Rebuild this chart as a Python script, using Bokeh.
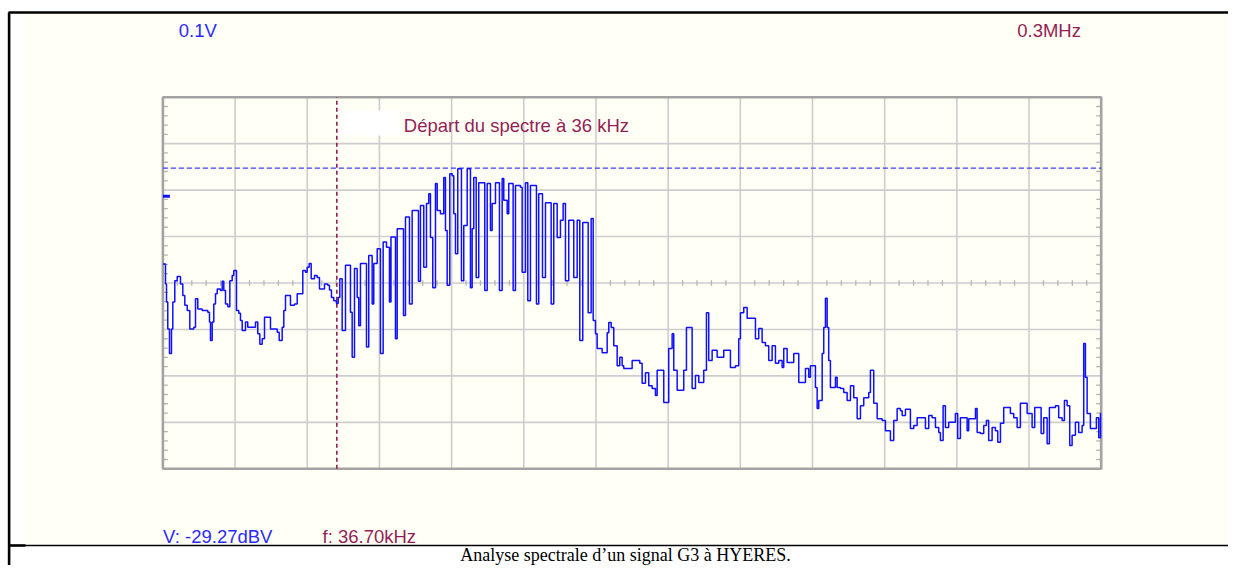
from bokeh.plotting import figure
from bokeh.models import Range1d
from bokeh.embed import file_html
from bokeh.resources import INLINE
from bokeh.core.properties import value
import numpy as np

# ------------------------------------------------------------------ data
# spectrum trace: frequency (kHz) and level (dBV)
freq_khz = [
    0.0, 0.55, 0.76, 1.03, 1.39, 1.81, 2.09, 2.51, 3.02, 3.71, 4.20, 4.62, 5.13, 5.68, 6.52, 6.88,
    7.36, 8.29, 9.47, 9.83, 10.04, 10.40, 10.74, 11.10, 11.46, 12.15, 12.51, 12.85, 13.21, 13.69,
    14.12, 14.62, 14.96, 15.53, 16.01, 16.37, 16.73, 17.43, 17.91, 19.54, 20.02, 20.45, 20.95,
    21.44, 22.70, 24.12, 24.54, 25.17, 25.51, 25.87, 26.92, 27.77, 28.34, 29.52, 30.09, 30.45,
    30.87, 31.29, 31.99, 32.56, 33.04, 34.10, 34.79, 35.15, 35.57, 36.06, 36.63, 36.99, 37.33,
    37.83, 38.53, 39.58, 39.94, 40.43, 41.00, 41.33, 41.69, 42.96, 43.44, 44.16, 44.50, 45.22,
    45.91, 46.48, 47.18, 47.81, 48.13, 49.08, 49.44, 50.77, 51.19, 52.03, 52.60, 53.93, 54.35,
    55.05, 55.62, 56.10, 56.46, 56.95, 57.52, 57.88, 58.57, 59.27, 59.63, 59.99, 60.54, 61.04,
    61.38, 61.74, 62.22, 63.00, 63.49, 64.21, 64.90, 65.26, 65.60, 66.11, 66.65, 67.92, 68.43,
    69.12, 69.48, 70.18, 71.02, 71.59, 71.93, 72.65, 72.98, 73.91, 74.40, 75.45, 75.81, 76.51,
    77.00, 77.56, 78.83, 79.31, 80.10, 80.73, 81.93, 82.48, 83.20, 83.89, 84.46, 84.95, 85.64,
    86.70, 87.42, 87.97, 88.60, 89.74, 90.37, 90.80, 91.28, 91.64, 92.69, 93.75, 94.09, 94.60,
    95.14, 95.86, 96.41, 96.91, 97.25, 99.02, 100.63, 101.13, 101.83, 102.52, 103.24, 103.94,
    104.30, 105.69, 106.74, 107.46, 107.80, 108.52, 109.91, 110.48, 111.68, 112.38, 113.08,
    114.13, 114.70, 115.18, 115.90, 116.96, 118.35, 119.76, 120.82, 121.51, 121.87, 122.57,
    123.29, 125.04, 125.73, 126.45, 127.15, 127.84, 128.56, 129.26, 129.96, 130.67, 131.01,
    131.73, 133.12, 134.18, 135.59, 136.28, 136.64, 137.70, 138.06, 138.40, 139.12, 139.45,
    139.81, 140.17, 140.50, 140.86, 141.92, 142.28, 142.98, 143.67, 144.39, 145.09, 145.78,
    146.50, 147.20, 147.89, 148.95, 149.30, 150.00, 150.72, 151.77, 152.47, 153.52, 154.22,
    154.94, 155.63, 156.00, 156.69, 157.74, 158.44, 159.16, 160.91, 161.61, 162.32, 163.02,
    163.72, 164.07, 164.64, 165.13, 165.82, 167.23, 167.72, 168.29, 169.71, 170.04, 171.47,
    171.82, 172.52, 173.21, 173.78, 174.26, 174.98, 175.68, 176.17, 176.74, 177.43, 178.84,
    179.54, 180.26, 180.95, 182.37, 183.42, 183.97, 185.32, 185.87, 186.59, 187.07, 188.34,
    189.03, 189.75, 190.24, 190.81, 191.36, 191.86, 192.56, 193.25, 193.97, 194.31, 194.67,
    195.03, 195.72, 196.99, 197.48, 197.85, 198.00,
]
level_dbv = [
    -49.9, -54.2, -58.1, -63.9, -69.2, -63.9, -58.1, -53.5, -52.6, -54.2, -56.7, -58.8, -59.9, -63.9, -63.5, -57.4,
    -59.6, -59.9, -60.3, -62.4, -66.4, -62.4, -58.5, -56.3, -55.3, -55.6, -53.6, -55.6, -58.5, -59.1,
    -53.5, -52.4, -51.3, -59.9, -60.5, -62.1, -64.2, -62.4, -63.5, -62.4, -64.9, -67.2, -66.0,
    -61.4, -63.9, -64.6, -66.4, -63.5, -59.9, -56.7, -58.8, -58.5, -56.3, -51.3, -51.7, -50.6,
    -49.8, -53.1, -52.4, -52.8, -55.3, -54.2, -54.5, -55.5, -57.1, -57.8, -58.4, -57.1, -53.1,
    -64.2, -50.2, -60.3, -70.0, -50.9, -57.1, -63.2, -49.8, -67.8, -48.1, -58.5, -49.8, -46.6,
    -69.2, -45.2, -46.3, -58.1, -44.1, -66.0, -42.3, -61.0, -39.8, -58.5, -38.4, -53.6, -37.3,
    -50.6, -36.9, -34.8, -44.2, -55.0, -32.6, -38.4, -39.1, -31.3, -42.7, -54.5, -30.5, -30.9,
    -39.1, -47.7, -29.4, -53.5, -41.6, -29.4, -55.0, -42.3, -31.3, -52.8, -32.4, -55.6, -32.6,
    -42.7, -36.9, -32.4, -55.6, -31.5, -36.2, -39.1, -32.6, -55.6, -33.0, -33.4, -51.7, -32.4,
    -57.8, -33.0, -58.5, -34.8, -52.8, -36.7, -58.5, -36.9, -44.2, -40.5, -36.9, -53.5, -40.5,
    -52.8, -40.5, -66.4, -41.0, -60.4, -40.1, -62.1, -64.9, -68.1, -69.0, -64.7, -62.5, -63.6,
    -67.5, -71.8, -70.0, -71.8, -72.4, -70.7, -71.3, -75.6, -73.3, -76.1, -76.7, -78.2,
    -72.8, -79.7, -68.1, -64.9, -72.8, -77.1, -72.8, -63.6, -76.7, -73.9, -75.4,
    -72.8, -60.4, -70.7, -68.5, -70.0, -68.5, -72.2, -71.8, -66.0, -60.4, -59.3,
    -61.6, -66.0, -63.8, -66.8, -67.5, -70.7, -67.5, -71.3, -70.7, -72.2, -68.1,
    -71.1, -69.2, -75.4, -72.4, -74.3, -71.8, -76.5, -81.0, -79.3, -69.2, -63.6,
    -57.3, -63.6, -70.7, -76.5, -74.3, -76.5, -76.7, -77.6, -79.3, -76.1, -78.7,
    -83.2, -80.4, -78.7, -77.6, -72.8, -79.9, -83.2, -83.6, -85.8, -87.9, -83.6,
    -81.0, -81.5, -82.5, -81.2, -85.3, -84.7, -83.0, -85.3, -82.5, -83.0, -85.1,
    -86.2, -87.9, -80.4, -85.1, -84.0, -82.1, -87.5, -83.0, -85.8, -83.2, -81.0,
    -86.2, -86.4, -84.7, -83.6, -87.9, -85.1, -85.8, -88.3, -84.2, -80.8, -82.1,
    -83.0, -85.1, -79.9, -82.1, -85.1, -80.8, -86.4, -83.0, -88.6, -80.8, -80.4,
    -83.0, -83.6, -79.3, -80.4, -89.0, -86.8, -84.0, -86.2, -84.7, -67.0, -74.3,
    -82.1, -85.3, -83.0, -87.3, -82.1, -82.1,
]

span_khz = 198.0          # full horizontal span of the screen
n_hdiv = 13               # horizontal divisions
db_top = -14.0            # level at top of screen (dBV)
db_per_div = 10.0
n_vdiv = 8
marker_freq_khz = 36.70   # cursor f
marker_level_dbv = -29.27 # cursor V
ref_level_dbv = -35.3     # small reference mark on the left edge

label_volts = "0.1V"
label_span = "0.3MHz"
label_readout_v = "V: -29.27dBV"
label_readout_f = "f: 36.70kHz"
label_note = "Départ du spectre à 36 kHz"
caption = "Analyse spectrale d\u2019un signal G3 à HYERES."

# ------------------------------------------------------------------ layout / style
W, H = 1228, 565           # figure size
BOX_L, BOX_R, BOX_T, BOX_B = 162.4, 1100.7, 96.7, 468.3   # screen box in picture pixels

CREAM = "#fffff5"
BLUE_TXT = "#2a2aff"
TRACE = "#1010ff"
MAROON = "#921f55"
GRID = "#cdcdcd"
FRAME = "#a3a3a3"

db_bot = db_top - n_vdiv * db_per_div
kx = span_khz / (BOX_R - BOX_L)
ky = (db_top - db_bot) / (BOX_B - BOX_T)
x_start = 0 - BOX_L * kx
x_end = span_khz + (W - BOX_R) * kx
y_end = db_top + BOX_T * ky
y_start = db_bot - (H - BOX_B) * ky

p = figure(width=W, height=H, title=None,
           x_range=Range1d(x_start, x_end), y_range=Range1d(y_start, y_end),
           output_backend="svg", toolbar_location=None,
           x_axis_location=None, y_axis_location=None,
           min_border=0, outline_line_color=None,
           background_fill_color="white", border_fill_color="white")
for g in p.grid:
    g.visible = False

p.extra_x_ranges = {"px": Range1d(0, W)}
p.extra_y_ranges = {"px": Range1d(H, 0)}
PX = dict(x_range_name="px", y_range_name="px")

# page decoration (document table cell)
LINE_Y = 545
RIGHT = W + 20
p.quad(left=[25], right=[RIGHT], top=[13], bottom=[LINE_Y - 1], fill_color=CREAM, line_color=None, **PX)
for (xa, ya, xb, yb, lw) in [(8, 12, RIGHT, 12, 2.6), (8.6, 12, 8.6, H + 10, 2.6),
                             (8, LINE_Y, RIGHT, LINE_Y, 1.6), (9, LINE_Y, 25, LINE_Y, 2.6)]:
    p.line(x=[xa, xb], y=[ya, yb], line_color="black", line_width=lw, **PX)

# screen background
p.quad(left=[0], right=[span_khz], top=[db_top], bottom=[db_bot], fill_color=CREAM, line_color=None)

# graticule
vx = np.arange(1, n_hdiv) * span_khz / n_hdiv
hy = db_top - np.arange(1, n_vdiv) * db_per_div
p.segment(x0=vx, y0=db_bot, x1=vx, y1=db_top, line_color=GRID, line_width=1.6)
p.segment(x0=0, y0=hy, x1=span_khz, y1=hy, line_color=GRID, line_width=1.6)

# minor ticks on centre line and on left / right borders
mx = np.array([k * span_khz / (n_hdiv * 5) for k in range(1, n_hdiv * 5) if k % 5])
mid = db_top - n_vdiv / 2 * db_per_div
p.segment(x0=mx, y0=mid - 0.6, x1=mx, y1=mid + 0.6, line_color="#b5b5b5", line_width=1.3)
my = np.array([db_top - k * db_per_div / 5 for k in range(1, n_vdiv * 5) if k % 5])
tick_len = 5 * kx
p.segment(x0=0, y0=my, x1=tick_len, y1=my, line_color="#b5b5b5", line_width=1.3)
p.segment(x0=span_khz - tick_len, y0=my, x1=span_khz, y1=my, line_color="#b5b5b5", line_width=1.3)

# screen frame
p.quad(left=[0], right=[span_khz], top=[db_top], bottom=[db_bot], fill_color=None,
       line_color=FRAME, line_width=2.6)

# cursors
p.segment(x0=[0], y0=[marker_level_dbv], x1=[span_khz], y1=[marker_level_dbv],
          line_color="#3a3aff", line_width=1.4, line_dash="5 3")
p.segment(x0=[marker_freq_khz], y0=[db_bot], x1=[marker_freq_khz], y1=[db_top],
          line_color=MAROON, line_width=1.6, line_dash="4 3")
p.segment(x0=[0], y0=[ref_level_dbv], x1=[7 * kx], y1=[ref_level_dbv],
          line_color=TRACE, line_width=3)

# spectrum trace
p.step(freq_khz, level_dbv, mode="after", line_color=TRACE, line_width=1.5)

# note box + texts
p.quad(left=[340], right=[398], top=[110], bottom=[135], fill_color="white", line_color=None, **PX)

FONT = value("Liberation Sans")
FS = "18.5px"
def put(x, y, txt, color, align="left", font=FONT, size=FS):
    p.text(x=[x], y=[y], text=[txt], text_font=font, text_font_size=size, text_color=color,
           text_align=align, text_baseline="alphabetic", **PX)

put(178.3, 29.5, label_volts, BLUE_TXT)
put(1016.7, 29.5, label_span, MAROON)
put(403.3, 125, label_note, MAROON)
put(162.6, 536, label_readout_v, BLUE_TXT)
put(322.0, 536, label_readout_f, MAROON)
put(625.0, 554, caption, "black", align="center", font=value("Liberation Serif"), size="18px")

open("out.html", "w").write(file_html(p, INLINE))
